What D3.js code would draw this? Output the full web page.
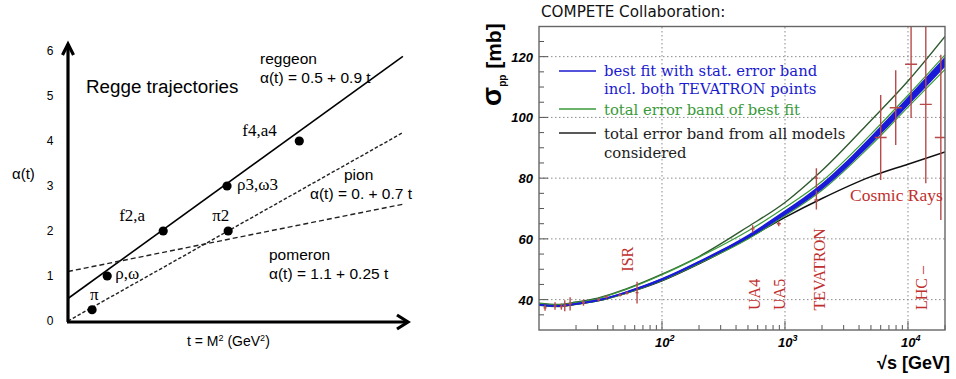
<!DOCTYPE html>
<html><head><meta charset="utf-8">
<script src="https://cdn.jsdelivr.net/npm/d3@7"></script>
<style>body{margin:0;background:#fff}svg{display:block}</style>
</head><body><svg id="c" width="956" height="379"></svg>
<script>
// ================= LEFT PANEL DATA (Regge trajectories) =================
const yTicksL = [0, 1, 2, 3, 4, 5, 6];
const trajNames = ["reggeon", "pion", "pomeron"];
const trajIntercept = [0.5, 0.0, 1.1];
const trajSlope = [0.9, 0.7, 0.25];
const trajTEnd = 5.98;
const trajFormula = ["α(t) = 0.5 + 0.9 t", "α(t) = 0. + 0.7 t", "α(t) = 1.1 + 0.25 t"];
const particleNames = ["π", "ρ,ω", "f2,a", "ρ3,ω3", "π2", "f4,a4"];
const particleT = [0.43, 0.70, 1.70, 2.84, 2.86, 4.13];
const particleAlpha = [0.25, 1, 2, 3, 2, 4];

// ================= RIGHT PANEL DATA (COMPETE sigma_pp) =================
const energies = [10, 14, 20, 30, 50, 100, 200, 500, 1000, 2000, 5000, 10000, 20000];
const bestFit   = [38.3, 37.9, 38.6, 39.8, 42.3, 46.7, 52.4, 60.8, 68.6, 77.3, 92.5, 105.3, 118.3];
const bestErr   = [0.3, 0.3, 0.3, 0.3, 0.3, 0.4, 0.4, 0.6, 0.8, 1.0, 1.3, 1.5, 1.7];
const greenUpper = [38.7, 38.3, 39.0, 40.3, 43.2, 48.2, 54.0, 62.6, 70.3, 79.0, 94.5, 107.3, 120.6];
const greenLower = [38.1, 37.7, 38.4, 39.6, 42.0, 46.3, 51.9, 60.0, 67.6, 76.0, 90.8, 103.4, 115.8];
const modelsUpper = [38.8, 38.4, 39.2, 40.5, 43.4, 48.4, 54.2, 64.0, 72.0, 82.5, 99.0, 112.0, 126.7];
const modelsLower = [38.2, 37.8, 38.5, 39.6, 42.0, 46.2, 51.8, 60.2, 67.1, 73.3, 80.5, 84.6, 88.6];

const lowE   = [11.2, 13.5, 15.2, 16.2, 17.9, 23.0, 30.5, 35.3, 45.6, 51.9, 62.7];
const lowSig = [37.3, 37.9, 37.7, 38.0, 38.6, 39.0, 40.0, 40.9, 41.5, 42.2, 42.3];
const lowErr = [1.0, 1.2, 1.0, 1.8, 2.2, 1.0, 0.5, 0.5, 0.5, 0.5, 3.6];
const colE   = [546, 890, 1800, 1800];
const colSig = [63.3, 65.0, 72.8, 80.0];
const colErr = [1.2, 0.8, 3.1, 3.3];
const cosE   = [6000, 7950, 10600, 13960, 18500];
const cosSig = [93.4, 103.2, 117.5, 104.3, 93.4];
const cosErr = [14.0, 12.3, 17.7, 26.0, 27.2];

const yTicksR = [40, 60, 80, 100, 120];
const xDecades = [100, 1000, 10000];
const xDecadeExp = ["2", "3", "4"];
const expNames = ["ISR", "UA4", "UA5", "TEVATRON", "LHC –"];
const expE = [58, 627, 1000, 2113, 14260];
const expSig = [49.2, 36.6, 36.6, 36.4, 36.6];
const legendTexts = [["best fit with stat. error band", "incl. both TEVATRON points"],
                     ["total error band of best fit"],
                     ["total error band from all models", "considered"]];
const legendColors = ["#1a1ad0", "#3a9a3a", "#222"];

// ================= DRAW =================
const svg = d3.select("#c");
svg.append("rect").attr("width", 956).attr("height", 379).attr("fill", "#fff");

// ---------- left ----------
const L = svg.append("g");
const xL = d3.scaleLinear().domain([0, 6]).range([68, 404]);
const yL = d3.scaleLinear().domain([0, 6]).range([321, 51]);
const sans = "'Liberation Sans', Arial, sans-serif";
const serif = "'Liberation Serif', 'Times New Roman', serif";

// trajectory lines
const dashes = [null, "3.5,2", "5,3"];
trajNames.forEach((n, i) => {
  L.append("line")
    .attr("x1", xL(0)).attr("y1", yL(trajIntercept[i]))
    .attr("x2", xL(trajTEnd)).attr("y2", yL(trajIntercept[i] + trajSlope[i] * trajTEnd))
    .attr("stroke", i === 0 ? "#000" : "#222").attr("stroke-width", i === 0 ? 1.6 : 1.4)
    .attr("stroke-dasharray", dashes[i]);
});
// axes
L.append("line").attr("x1", 68).attr("y1", yL(0) + 1).attr("x2", 68).attr("y2", 44)
  .attr("stroke", "#000").attr("stroke-width", 3.2);
L.append("line").attr("x1", 67).attr("y1", yL(0) + 1).attr("x2", 407).attr("y2", yL(0) + 1)
  .attr("stroke", "#000").attr("stroke-width", 3.2);
L.append("path").attr("d", "M62.5,55 L68,44 L73.5,55").attr("fill", "none")
  .attr("stroke", "#000").attr("stroke-width", 3.2).attr("stroke-linejoin", "miter");
L.append("path").attr("d", `M397,${yL(0) - 6} L408,${yL(0) + 1} L397,${yL(0) + 8}`).attr("fill", "none")
  .attr("stroke", "#000").attr("stroke-width", 3.2);
// tick labels
L.selectAll("text.yt").data(yTicksL).join("text")
  .attr("x", 50).attr("y", d => yL(d) + 4).attr("text-anchor", "middle")
  .attr("font-family", sans).attr("font-size", 12).text(d => d);
// axis titles
L.append("text").attr("x", 12).attr("y", 179).attr("font-family", sans).attr("font-size", 15).text("α(t)");
const xt = L.append("text").attr("x", 187).attr("y", 346).attr("font-family", sans).attr("font-size", 14);
xt.append("tspan").text("t = M");
xt.append("tspan").attr("dy", -5).attr("font-size", 9).text("2");
xt.append("tspan").attr("dy", 5).text(" (GeV");
xt.append("tspan").attr("dy", -5).attr("font-size", 9).text("2");
xt.append("tspan").attr("dy", 5).text(")");
L.append("text").attr("x", 86).attr("y", 93).attr("font-family", sans).attr("font-size", 18.8).text("Regge trajectories");
// trajectory names / formulas
const nameLayout = [[260, 64, 260, 83], [344, 180, 310, 199], [269, 260, 269, 279]];
trajNames.forEach((n, i) => {
  const p = nameLayout[i];
  L.append("text").attr("x", p[0]).attr("y", p[1]).attr("font-family", sans).attr("font-size", 15.5).text(n);
  L.append("text").attr("x", p[2]).attr("y", p[3]).attr("font-family", sans).attr("font-size", 15.5).text(trajFormula[i]);
});
// particles
const labelOff = [[-2, -10], [8, 3], [-44, -10], [10, 4], [-16, -10], [-57, -5]];
particleNames.forEach((n, i) => {
  const x = xL(particleT[i]), y = yL(particleAlpha[i]);
  L.append("circle").attr("cx", x).attr("cy", y).attr("r", 4.6).attr("fill", "#000");
  L.append("text").attr("x", x + labelOff[i][0]).attr("y", y + labelOff[i][1])
    .attr("font-family", serif).attr("font-size", 17).text(n);
});

// ---------- right ----------
const R = svg.append("g");
const xR = d3.scaleLog().domain([10, 20000]).range([539, 945]);
const yR = d3.scaleLinear().domain([30, 130]).range([330, 26.3]);
const red = "#c0302e";

R.append("defs").append("clipPath").attr("id", "clipR")
  .append("rect").attr("x", 539).attr("y", 26.5).attr("width", 406).attr("height", 303.5);

// grid
R.selectAll("line.gx").data(xDecades).join("line")
  .attr("x1", d => xR(d)).attr("x2", d => xR(d)).attr("y1", 27).attr("y2", 330)
  .attr("stroke", "#8a8a8a").attr("stroke-width", 1).attr("stroke-dasharray", "1.5,2.5");
R.selectAll("line.gy").data(yTicksR).join("line")
  .attr("x1", 539).attr("x2", 945).attr("y1", d => yR(d)).attr("y2", d => yR(d))
  .attr("stroke", "#8a8a8a").attr("stroke-width", 1).attr("stroke-dasharray", "1.5,2.5");

// minor ticks
const yMinor = d3.range(35, 130, 5);
R.selectAll("line.ym").data(yMinor).join("line")
  .attr("x1", 539).attr("x2", d => 539 + (d % 20 === 0 ? 9 : 5))
  .attr("y1", d => yR(d)).attr("y2", d => yR(d)).attr("stroke", "#555").attr("stroke-width", 1);
const xMinor = [];
[10, 100, 1000, 10000].forEach(dec => { for (let k = 1; k < 10; k++) { const v = dec * k; if (v > 10 && v <= 20000) xMinor.push(v); } });
R.selectAll("line.xm").data(xMinor).join("line")
  .attr("x1", d => xR(d)).attr("x2", d => xR(d))
  .attr("y1", 330).attr("y2", d => 330 - (xDecades.includes(d) ? 9 : 5)).attr("stroke", "#555").attr("stroke-width", 1);

const C = R.append("g").attr("clip-path", "url(#clipR)");
const idx = d3.range(energies.length);
const lineGen = arr => d3.line().x(i => xR(energies[i])).y(i => yR(arr[i])).curve(d3.curveMonotoneX)(idx);

// curves
C.append("path").attr("d", lineGen(modelsLower)).attr("fill", "none").attr("stroke", "#111").attr("stroke-width", 1.5);
C.append("path").attr("d", lineGen(modelsUpper)).attr("fill", "none").attr("stroke", "#2f5a2f").attr("stroke-width", 1.4);
C.append("path").attr("d", lineGen(greenUpper)).attr("fill", "none").attr("stroke", "#3a9a3a").attr("stroke-width", 1.2);
C.append("path").attr("d", lineGen(greenLower)).attr("fill", "none").attr("stroke", "#3a9a3a").attr("stroke-width", 1.2);
const band = d3.area().x(i => xR(energies[i])).y0(i => yR(bestFit[i] - bestErr[i])).y1(i => yR(bestFit[i] + bestErr[i])).curve(d3.curveMonotoneX);
C.append("path").attr("d", band(idx)).attr("fill", "#1a1ad8");
C.append("path").attr("d", lineGen(bestFit)).attr("fill", "none").attr("stroke", "#1a1ad8").attr("stroke-width", 1.6);

// error bars
function bars(E, S, Er, cap) {
  E.forEach((e, i) => {
    const x = xR(e);
    C.append("line").attr("x1", x).attr("x2", x).attr("y1", yR(S[i] - Er[i])).attr("y2", yR(S[i] + Er[i]))
      .attr("stroke", "#b84a4a").attr("stroke-width", 1.4);
    C.append("line").attr("x1", x - cap).attr("x2", x + cap).attr("y1", yR(S[i])).attr("y2", yR(S[i]))
      .attr("stroke", "#b84a4a").attr("stroke-width", 1.4);
  });
}
bars(lowE, lowSig, lowErr, 1.5);
bars(colE, colSig, colErr, 2);
bars(cosE, cosSig, cosErr, 6);

// frame
R.append("rect").attr("x", 539).attr("y", 26.5).attr("width", 406).attr("height", 303.5)
  .attr("fill", "none").attr("stroke", "#666").attr("stroke-width", 1.4);

// tick labels
R.selectAll("text.ty").data(yTicksR).join("text")
  .attr("x", 533).attr("y", d => yR(d) + 5).attr("text-anchor", "end")
  .attr("font-family", sans).attr("font-weight", "bold").attr("font-style", "italic").attr("font-size", 13).text(d => d);
xDecades.forEach((d, i) => {
  const t = R.append("text").attr("x", xR(d) - 7).attr("y", 347)
    .attr("font-family", sans).attr("font-weight", "bold").attr("font-style", "italic").attr("font-size", 13);
  t.append("tspan").text("10");
  t.append("tspan").attr("dy", -6).attr("font-size", 9).text(xDecadeExp[i]);
});
// axis titles
R.append("text").attr("x", 950).attr("y", 369).attr("text-anchor", "end")
  .attr("font-family", sans).attr("font-weight", "bold").attr("font-size", 18).text("√s [GeV]");
const yt = R.append("text").attr("transform", "translate(501,106) rotate(-90)")
  .attr("font-family", sans).attr("font-weight", "bold").attr("font-size", 21);
yt.append("tspan").attr("font-size", 28).text("σ");
yt.append("tspan").attr("dy", 5).attr("font-size", 10).text("pp");
yt.append("tspan").attr("dy", -5).text(" [mb]");
R.append("text").attr("x", 541).attr("y", 17).attr("font-family", "'DejaVu Sans', Verdana, sans-serif")
  .attr("font-size", 15.2).attr("fill", "#111").text("COMPETE Collaboration:");

// experiment labels
expNames.forEach((n, i) => {
  R.append("text").attr("transform", `translate(${xR(expE[i])},${yR(expSig[i])}) rotate(-90)`)
    .attr("font-family", serif).attr("font-size", 16).attr("fill", red).text(n);
});
R.append("text").attr("x", xR(3375)).attr("y", yR(72.5)).attr("font-family", serif)
  .attr("font-size", 17.5).attr("fill", red).text("Cosmic Rays");

// legend
const legY = [71, 109, 133];
const legBase = [[76, 94], [114.5], [139, 158]];
legendTexts.forEach((lines, i) => {
  R.append("line").attr("x1", 559).attr("x2", 596).attr("y1", legY[i]).attr("y2", legY[i])
    .attr("stroke", legendColors[i]).attr("stroke-width", 1.3);
  lines.forEach((s, j) => {
    R.append("text").attr("x", 604).attr("y", legBase[i][j]).attr("font-family", "'DejaVu Serif', serif")
      .attr("font-size", 14.8).attr("fill", legendColors[i]).text(s);
  });
});
</script></body></html>
